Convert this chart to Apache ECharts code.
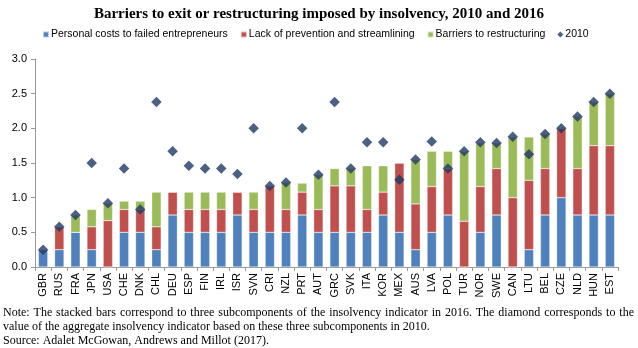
<!DOCTYPE html>
<html><head><meta charset="utf-8">
<script src="https://cdn.jsdelivr.net/npm/echarts@6/dist/echarts.min.js"></script>
<style>html,body{margin:0;padding:0;background:#fff}#c{width:638px;height:348px}</style>
</head><body><div id="c"></div>
<script>
const categories = ["GBR","RUS","FRA","JPN","USA","CHE","DNK","CHL","DEU","ESP","FIN","IRL","ISR","SVN","CRI","NZL","PRT","AUT","GRC","SVK","ITA","KOR","MEX","AUS","LVA","POL","TUR","NOR","SWE","CAN","LTU","BEL","CZE","NLD","HUN","EST"];
const personal = [0.25,0.25,0.5,0.25,0,0.5,0.5,0.25,0.75,0.5,0.5,0.5,0.75,0.5,0.5,0.5,0.75,0.5,0.5,0.5,0.5,0.75,0.5,0.25,0.5,0.75,0,0.5,0.75,0,0.25,0.75,1.0,0.75,0.75,0.75];
const prevention = [0,0.33,0,0.33,0.67,0.33,0.33,0.33,0.33,0.33,0.33,0.33,0.33,0.33,0.67,0.33,0.33,0.33,0.67,0.67,0.33,0.33,1.0,0.66,0.66,0.67,0.66,0.66,0.67,1.0,1.0,0.67,1.0,0.67,1.0,1.0];
const restructuring = [0,0,0.25,0.25,0.25,0.12,0.12,0.5,0,0.25,0.25,0.25,0,0.25,0,0.39,0.13,0.5,0.25,0.25,0.63,0.38,0,0.64,0.51,0.25,1.01,0.63,0.37,0.875,0.625,0.5,0,0.75,0.63,0.75];
const y2010 = [0.25,0.58,0.75,1.5,0.92,1.42,0.83,2.38,1.67,1.46,1.42,1.42,1.34,2.0,1.17,1.22,2.0,1.33,2.38,1.42,1.8,1.8,1.26,1.55,1.81,1.42,1.67,1.8,1.79,1.88,1.625,1.92,2.0,2.17,2.38,2.5];
const yTicks = {min:0,max:3,interval:0.5};
const titleText = 'Barriers to exit or restructuring imposed by insolvency, 2010 and 2016';
const noteLine1 = 'Note: The stacked bars correspond to three subcomponents of the insolvency indicator in 2016. The diamond corresponds to the';
const noteLine2 = 'value of the aggregate insolvency indicator based on these three subcomponents in 2010.';
const sourceLine = 'Source: Adalet McGowan, Andrews and Millot (2017).';

const noteFont = '12px "Liberation Serif"';
// justify first note line between x=3 and x=634
const ctx = document.createElement('canvas').getContext('2d');
ctx.font = noteFont;
const words = noteLine1.split(' ');
const widths = words.map(w => ctx.measureText(w).width);
const total = widths.reduce((a,b)=>a+b,0);
const gap = (634 - 3 - total) / (words.length - 1);
const justified = [];
let xPos = 3;
words.forEach((w,i) => {
  justified.push({type:'text', x:xPos, y:307, style:{text:w, font:noteFont, fill:'#000'}});
  xPos += widths[i] + gap;
});

const chart = echarts.init(document.getElementById('c'), null, {renderer:'canvas'});
const barStyle = c => ({color:c, borderColor:'rgba(255,255,255,0.6)', borderWidth:0.5});
chart.setOption({
  animation:false,
  title:{text:titleText, left:'center', top:2,
    textStyle:{fontFamily:'Liberation Serif', fontWeight:'bold', fontSize:15, color:'#000'}},
  legend:{top:24, left:37, itemWidth:6, itemHeight:6, itemGap:12,
    textStyle:{fontFamily:'Liberation Sans', fontSize:10.5, color:'#000', padding:[0,0,0,-3]},
    data:[{name:'Personal costs to failed entrepreneurs',icon:'rect'},{name:'Lack of prevention and streamlining',icon:'rect'},{name:'Barriers to restructuring',icon:'rect'},{name:'2010',icon:'diamond'}]},
  grid:{left:35, right:20, top:59, bottom:81},
  xAxis:{type:'category', data:categories,
    axisLine:{lineStyle:{color:'#999'}},
    axisTick:{show:true, alignWithLabel:false, length:4, lineStyle:{color:'#999'}},
    axisLabel:{rotate:90, interval:0, fontFamily:'Liberation Sans', fontSize:11, color:'#000', margin:6}},
  yAxis:{type:'value', min:yTicks.min, max:yTicks.max, interval:yTicks.interval,
    splitLine:{show:false},
    axisLine:{show:true, lineStyle:{color:'#999'}},
    axisTick:{show:true, length:4, lineStyle:{color:'#999'}},
    axisLabel:{formatter:v=>v.toFixed(1), fontFamily:'Liberation Sans', fontSize:11, color:'#000', margin:8}},
  series:[
    {name:'Personal costs to failed entrepreneurs', type:'bar', stack:'s', data:personal, barCategoryGap:'42%', itemStyle:barStyle('#4F81BD')},
    {name:'Lack of prevention and streamlining', type:'bar', stack:'s', data:prevention, itemStyle:barStyle('#C0504D')},
    {name:'Barriers to restructuring', type:'bar', stack:'s', data:restructuring, itemStyle:barStyle('#9BBB59')},
    {name:'2010', type:'scatter', symbol:'diamond', symbolSize:10.5, data:y2010, itemStyle:{color:'#1F3864'}, z:5}
  ],
  graphic: justified.concat([
    {type:'text', x:3, y:321, style:{text:noteLine2, font:noteFont, fill:'#000'}},
    {type:'text', x:3, y:335, style:{text:sourceLine, font:noteFont, fill:'#000'}}
  ])
});
</script></body></html>
